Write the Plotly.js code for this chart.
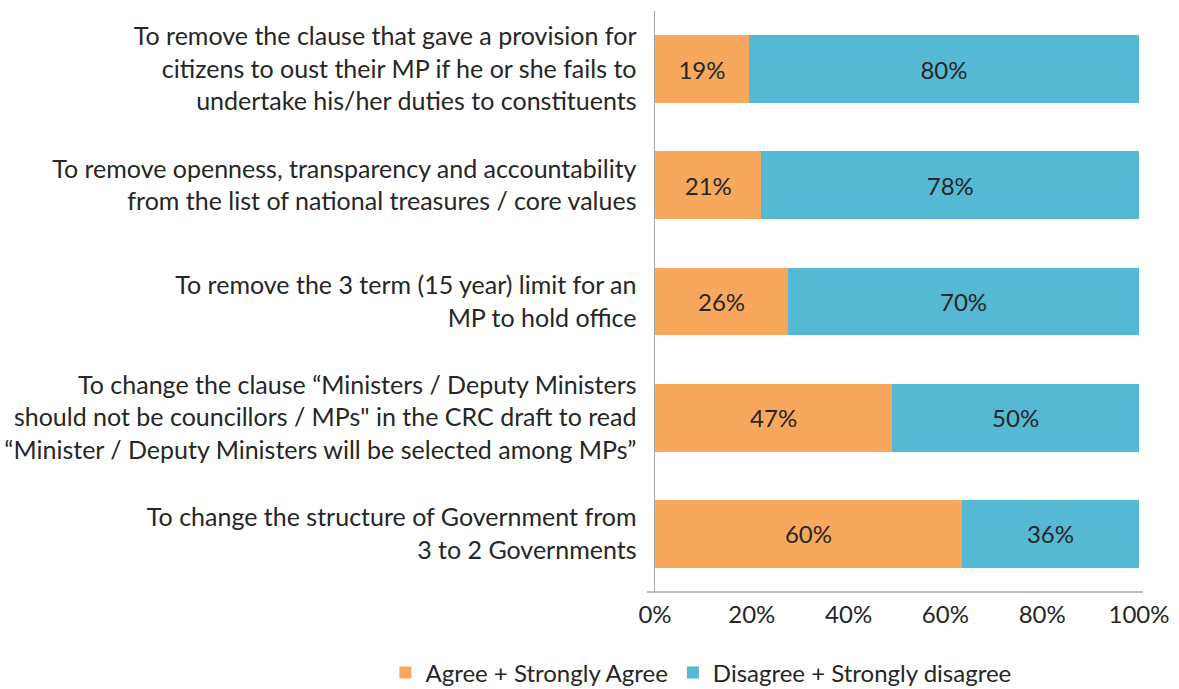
<!DOCTYPE html>
<html>
<head>
<meta charset="utf-8">
<script src="https://cdn.plot.ly/plotly-3.0.1.min.js"></script>
<style>html,body{margin:0;padding:0;background:#fff;}#chart{width:1179px;height:689px;}</style>
</head>
<body>
<div id="chart"></div>
<script>
var categories = [
  "To remove the clause that gave a provision for<br>citizens to oust their MP if he or she fails to<br>undertake his/her duties to constituents",
  "To remove openness, transparency and accountability<br>from the list of national treasures / core values",
  "To remove the 3 term (15 year) limit for an<br>MP to hold office",
  "To change the clause “Ministers / Deputy Ministers<br>should not be councillors / MPs\" in the CRC draft to read<br>“Minister / Deputy Ministers will be selected among MPs”",
  "To change the structure of Government from<br>3 to 2 Governments"
];
var seriesNames = ["Agree + Strongly Agree", "Disagree + Strongly disagree"];
// percentages printed on the bars
var agreeLabels = [19, 21, 26, 47, 60];
var disagreeLabels = [80, 78, 70, 50, 36];
// bar lengths as drawn (share of the full bar, %)
var agreeShare = [19.4, 22.0, 27.5, 49.0, 63.4];
var disagreeShare = [80.6, 78.0, 72.5, 51.0, 36.6];
var xTicks = [0, 20, 40, 60, 80, 100];

var FONT = "Lato, sans-serif";
var textCol = "#262626";

var traces = [
  {
    type: "bar", orientation: "h", name: seriesNames[0],
    y: categories, x: agreeShare,
    text: agreeLabels.map(function(v){return v + "%";}),
    textposition: "inside", insidetextanchor: "middle",
    textfont: {family: FONT, size: 24, color: textCol},
    marker: {color: "#F8A85C"}, hoverinfo: "none"
  },
  {
    type: "bar", orientation: "h", name: seriesNames[1],
    y: categories, x: disagreeShare,
    text: disagreeLabels.map(function(v){return v + "%";}),
    textposition: "inside", insidetextanchor: "middle",
    textfont: {family: FONT, size: 24, color: textCol},
    marker: {color: "#55B9D3"}, hoverinfo: "none"
  }
];

var layout = {
  width: 1179, height: 689,
  margin: {l: 655, r: 40, t: 11, b: 97, autoexpand: false},
  paper_bgcolor: "#fff", plot_bgcolor: "#fff",
  barmode: "stack", bargap: 0.415,
  font: {family: FONT, size: 24, color: textCol},
  xaxis: {
    range: [0, 100], tickvals: xTicks, ticktext: xTicks.map(function(v){return v + "%";}),
    showgrid: false, zeroline: false, showline: false,
    ticks: "outside", ticklen: 1, tickcolor: "rgba(0,0,0,0)",
    tickfont: {family: FONT, size: 24, color: textCol}
  },
  yaxis: {
    categoryorder: "array", categoryarray: categories.slice().reverse(),
    showgrid: false, zeroline: false,
    showline: true, linecolor: "#A6A6A6", linewidth: 1.5,
    ticks: "outside", ticklen: 12, tickcolor: "rgba(0,0,0,0)",
    tickfont: {family: FONT, size: 25, color: textCol}
  },
  shapes: [{
    type: "line", xref: "paper", yref: "paper",
    x0: -0.0165, x1: 1.008, y0: 0, y1: 0,
    line: {color: "#A6A6A6", width: 1.5}
  }],
  showlegend: true,
  legend: {
    orientation: "h", x: -0.557, xanchor: "left",
    y: -0.1394, yanchor: "middle",
    font: {family: FONT, size: 24, color: textCol},
    traceorder: "normal", bgcolor: "rgba(0,0,0,0)"
  }
};

Plotly.newPlot("chart", traces, layout, {displayModeBar: false, staticPlot: true});
</script>
</body>
</html>
